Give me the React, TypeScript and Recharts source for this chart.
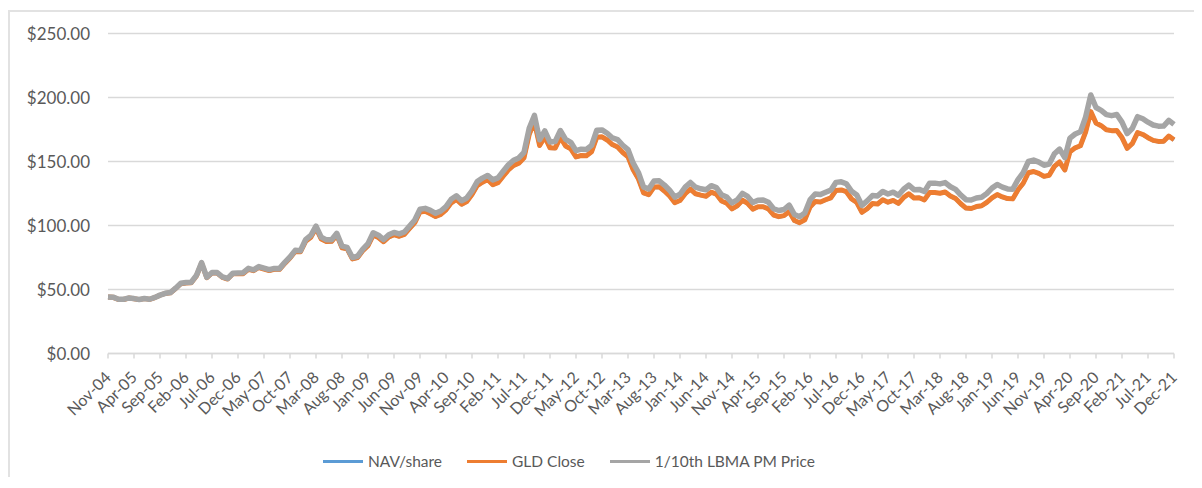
import { LineChart, Line, XAxis, YAxis, CartesianGrid, Legend } from "recharts";

// monthly points, Nov-04 .. Dec-21
const monthNames = ["Jan", "Feb", "Mar", "Apr", "May", "Jun", "Jul", "Aug", "Sep", "Oct", "Nov", "Dec"];
const months: string[] = [];
for (let y = 2004; y <= 2021; y++) {
  for (let m = 0; m < 12; m++) {
    if (y === 2004 && m < 10) continue;
    months.push(`${monthNames[m]}-${String(y % 100).padStart(2, "0")}`);
  }
}

const lbmaTenth = [
  44.2, 44.0,
  42.4, 42.3, 43.4, 42.9, 42.2, 43.0, 42.4, 43.8, 45.6, 47.0, 47.6, 51.0,
  54.9, 55.5, 55.7, 61.0, 71.0, 59.6, 63.3, 63.2, 59.9, 58.6, 62.7, 62.9,
  63.1, 66.5, 65.4, 67.9, 66.7, 65.5, 66.5, 66.5, 71.2, 75.4, 80.6, 80.3,
  88.9, 92.2, 99.5, 90.9, 88.8, 88.9, 93.9, 83.9, 82.9, 75.0, 76.0, 81.6,
  85.8, 94.3, 92.4, 89.0, 92.8, 94.6, 93.4, 94.9, 99.6, 104.3, 112.7, 113.4,
  111.8, 109.5, 111.3, 114.8, 120.5, 123.2, 119.3, 121.5, 127.1, 134.3, 137.0, 139.1,
  135.6, 137.2, 142.4, 147.4, 151.0, 152.8, 157.2, 176.0, 186.0, 167.0, 173.9, 165.2,
  165.6, 174.2, 167.3, 165.0, 158.5, 159.6, 159.4, 162.6, 174.4, 174.7, 172.1, 168.4,
  167.1, 162.7, 159.3, 148.7, 141.4, 130.0, 128.6, 134.7, 134.9, 131.6, 127.6, 122.2,
  124.4, 130.0, 133.6, 129.9, 128.7, 127.9, 131.1, 129.6, 123.9, 122.2, 117.6, 120.0,
  125.1, 122.7, 117.9, 119.8, 119.9, 118.1, 113.1, 111.7, 112.5, 115.9, 108.6, 106.8,
  109.7, 120.0, 124.6, 124.2, 126.0, 127.6, 133.7, 134.1, 132.6, 126.7, 123.8, 115.7,
  119.2, 123.4, 123.1, 126.6, 124.6, 126.0, 123.6, 128.3, 131.5, 128.0, 128.2, 126.5,
  133.1, 133.1, 132.5, 133.5, 130.3, 128.2, 123.8, 120.2, 119.9, 121.5, 122.1, 125.0,
  129.2, 132.0, 130.0, 128.6, 128.4, 135.9, 141.3, 150.0, 151.1, 149.5, 147.1, 148.0,
  156.0, 159.7, 153.0, 168.3, 171.5, 173.2, 184.6, 202.0, 192.2, 190.0, 186.6, 185.8,
  186.7, 180.8, 171.8, 176.0, 185.0, 183.4, 180.7, 178.5, 177.6, 177.7, 182.1, 179.0,
];

const gldClose = [
  44.1, 43.9,
  42.3, 42.2, 43.3, 42.8, 42.1, 42.9, 42.3, 43.7, 45.5, 46.9, 47.4, 50.8,
  54.5, 55.1, 55.3, 60.6, 70.5, 59.2, 62.9, 62.8, 59.5, 58.2, 62.3, 62.5,
  62.4, 65.8, 64.7, 67.2, 66.0, 64.8, 65.8, 65.8, 70.4, 74.6, 79.7, 79.4,
  87.6, 90.8, 98.0, 89.5, 87.5, 87.6, 92.5, 82.6, 81.7, 73.9, 74.9, 80.4,
  84.2, 92.5, 90.6, 87.3, 91.0, 92.8, 91.6, 93.1, 97.7, 102.3, 110.6, 111.2,
  109.2, 107.0, 108.7, 112.2, 117.7, 120.4, 116.6, 118.7, 124.2, 131.2, 133.8, 135.9,
  131.9, 133.5, 138.6, 143.4, 146.9, 148.7, 153.0, 171.2, 181.0, 162.5, 169.2, 160.7,
  160.5, 168.8, 162.1, 159.9, 153.6, 154.7, 154.5, 157.6, 169.0, 169.3, 166.8, 163.2,
  161.3, 157.0, 153.7, 143.5, 136.5, 125.5, 124.1, 130.0, 130.2, 127.0, 123.1, 117.9,
  119.5, 124.9, 128.4, 124.8, 123.7, 122.9, 126.0, 124.5, 119.1, 117.4, 113.0, 115.3,
  119.7, 117.4, 112.8, 114.6, 114.7, 113.0, 108.2, 106.9, 107.7, 110.9, 103.9, 102.2,
  104.5, 114.4, 118.7, 118.4, 120.1, 121.6, 127.4, 127.8, 126.4, 120.7, 118.0, 110.3,
  113.1, 117.1, 116.8, 120.1, 118.2, 119.6, 117.3, 121.8, 124.8, 121.5, 121.7, 120.0,
  125.8, 125.8, 125.2, 126.2, 123.1, 121.1, 117.0, 113.6, 113.3, 114.8, 115.4, 118.1,
  121.6, 124.2, 122.3, 121.0, 120.8, 127.9, 133.0, 141.2, 142.2, 140.7, 138.4, 139.3,
  146.2, 149.6, 143.4, 157.7, 160.7, 162.3, 173.0, 189.0, 180.1, 178.0, 174.8, 174.1,
  174.2, 168.7, 160.3, 164.2, 172.6, 171.1, 168.6, 166.5, 165.7, 165.8, 169.9, 167.0,
];

const navShare = [
  44.0, 43.9,
  42.3, 42.1, 43.3, 42.7, 42.1, 42.8, 42.3, 43.6, 45.4, 46.8, 47.4, 50.7,
  54.4, 55.0, 55.3, 60.5, 70.3, 59.1, 62.8, 62.7, 59.4, 58.2, 62.2, 62.4,
  62.3, 65.7, 64.6, 67.1, 65.9, 64.7, 65.7, 65.7, 70.3, 74.5, 79.6, 79.3,
  87.5, 90.7, 97.8, 89.4, 87.4, 87.5, 92.4, 82.5, 81.6, 73.7, 74.8, 80.3,
  84.1, 92.4, 90.5, 87.2, 90.9, 92.7, 91.5, 93.0, 97.6, 102.2, 110.5, 111.1,
  109.1, 106.9, 108.6, 112.1, 117.6, 120.3, 116.5, 118.6, 124.1, 131.1, 133.7, 135.8,
  131.8, 133.4, 138.5, 143.3, 146.8, 148.6, 152.9, 171.0, 180.8, 162.4, 169.1, 160.6,
  160.4, 168.7, 162.0, 159.8, 153.5, 154.6, 154.4, 157.5, 168.9, 169.2, 166.7, 163.1,
  161.2, 156.9, 153.6, 143.4, 136.4, 125.4, 124.0, 129.9, 130.1, 126.9, 123.0, 117.8,
  119.4, 124.8, 128.3, 124.7, 123.6, 122.8, 125.9, 124.4, 119.0, 117.3, 112.9, 115.2,
  119.6, 117.3, 112.7, 114.5, 114.6, 112.9, 108.1, 106.8, 107.6, 110.8, 103.8, 102.1,
  104.4, 114.3, 118.6, 118.3, 120.0, 121.5, 127.3, 127.7, 126.3, 120.6, 117.9, 110.2,
  113.0, 117.0, 116.7, 120.0, 118.1, 119.5, 117.2, 121.7, 124.7, 121.4, 121.6, 119.9,
  125.7, 125.7, 125.1, 126.1, 123.0, 121.0, 116.9, 113.5, 113.2, 114.7, 115.3, 118.0,
  121.5, 124.1, 122.2, 120.9, 120.7, 127.8, 132.9, 141.1, 142.1, 140.6, 138.3, 139.2,
  146.1, 149.5, 143.2, 157.6, 160.6, 162.2, 172.9, 188.8, 180.0, 177.9, 174.7, 174.0,
  174.1, 168.6, 160.2, 164.1, 172.5, 171.0, 168.5, 166.4, 165.6, 165.7, 169.8, 166.9,
];

const yTicks = [0, 50, 100, 150, 200, 250];

const seriesInfo = [
  { key: "nav", name: "NAV/share", color: "#5b9bd5", width: 4 },
  { key: "gld", name: "GLD Close", color: "#ed7d31", width: 5 },
  { key: "lbma", name: "1/10th LBMA PM Price", color: "#a5a5a5", width: 5.5 },
];

const data = months.map((month, i) => ({
  month,
  nav: navShare[i],
  gld: gldClose[i],
  lbma: lbmaTenth[i],
}));

const FONT = "Lato, 'Open Sans', sans-serif";
const TEXT = "#595959";

function MonthTick({ x, y, payload }: any) {
  return (
    <g transform={`translate(${x + 4},${y + 18})`}>
      <text
        x={0}
        y={0}
        textAnchor="end"
        transform="rotate(-45)"
        fontFamily={FONT}
        fontSize={16}
        fill={TEXT}
      >
        {payload.value}
      </text>
    </g>
  );
}

function ChartLegend() {
  return (
    <div style={{ display: "flex", alignItems: "center", fontFamily: FONT, fontSize: 15.5, color: TEXT }}>
      {seriesInfo.map((s) => (
        <div key={s.key} style={{ display: "flex", alignItems: "center", marginRight: 25 }}>
          <span style={{ display: "inline-block", width: 40, height: 3, background: s.color, marginRight: 5 }} />
          <span>{s.name}</span>
        </div>
      ))}
    </div>
  );
}

export default function App() {
  return (
    <div
      style={{
        marginTop: 2,
        width: 1184,
        height: 465,
        borderLeft: "2px solid #e2e2e2",
        borderTop: "2px solid #e2e2e2",
        background: "#fff",
      }}
    >
      <LineChart
        width={1184}
        height={465}
        data={data}
        margin={{ top: 21.5, right: 20, left: 0, bottom: 43.5 }}
      >
        <CartesianGrid vertical={false} stroke="#d9d9d9" strokeWidth={1.5} />
        <XAxis
          dataKey="month"
          interval={4}
          height={80}
          tick={<MonthTick />}
          tickSize={5}
          axisLine={{ stroke: "#d9d9d9", strokeWidth: 1.5 }}
          tickLine={{ stroke: "#d9d9d9", strokeWidth: 1.5 }}
        />
        <YAxis
          domain={[0, 250]}
          ticks={yTicks}
          width={98}
          axisLine={false}
          tickLine={false}
          tickMargin={12}
          tickFormatter={(v: number) => `$${v.toFixed(2)}`}
          tick={{ fontFamily: FONT, fontSize: 17, fill: TEXT }}
        />
        <Legend
          verticalAlign="middle"
          align="center"
          layout="horizontal"
          wrapperStyle={{ top: 440, left: 313, width: 600, height: 20 }}
          content={<ChartLegend />}
        />
        {seriesInfo.map((s) => (
          <Line
            key={s.key}
            type="linear"
            dataKey={s.key}
            name={s.name}
            stroke={s.color}
            strokeWidth={s.width}
            strokeLinejoin="round"
            dot={false}
            isAnimationActive={false}
          />
        ))}
      </LineChart>
    </div>
  );
}
